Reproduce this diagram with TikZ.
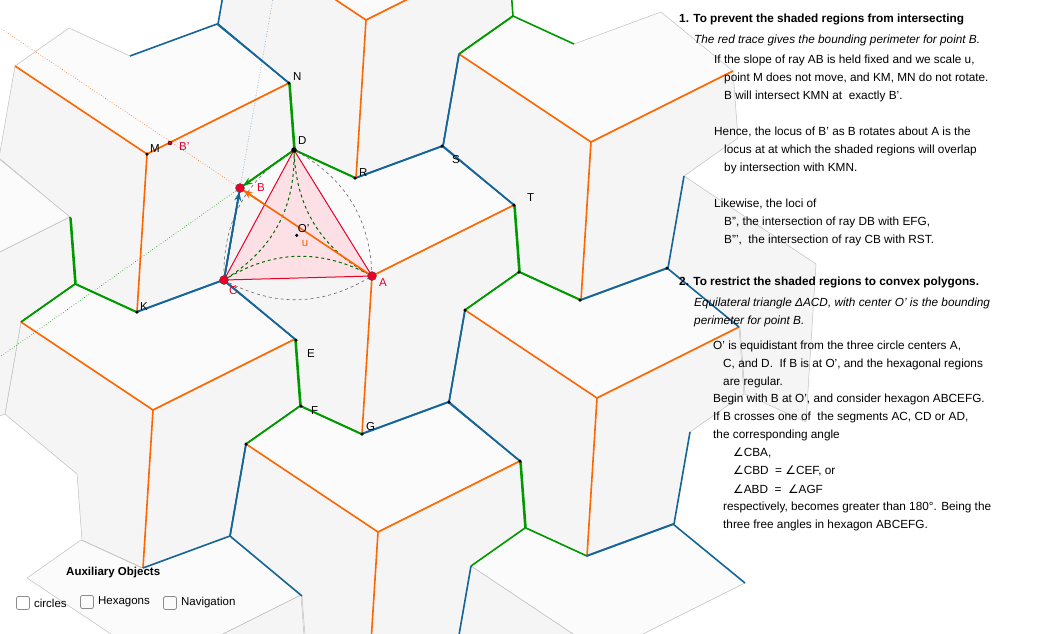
\documentclass[tikz,border=0pt]{standalone}
\usepackage{fontspec}
\setmainfont{Liberation Sans}
\newfontfamily\symfont{DejaVu Sans}
\usetikzlibrary{calc, arrows.meta}
\definecolor{ggOrange}{RGB}{255,102,0}
\definecolor{ggBlue}{RGB}{21,101,153}
\definecolor{ggGreen}{RGB}{0,153,0}
\definecolor{ggRed}{RGB}{235,0,40}
\definecolor{ggFaceA}{RGB}{251,251,251}
\definecolor{ggFaceB}{RGB}{245,245,245}
\tikzset{
  orangeline/.style={ggOrange, line width=1.6pt},
  blueline/.style={ggBlue, line width=1.6pt},
  greenline/.style={ggGreen, line width=1.6pt},
  face/.style={draw=black!25, line width=0.5pt},
  vtx/.style={circle, fill=black, inner sep=0pt, minimum size=3.5pt},
  bigpt/.style={circle, fill=ggRed, draw=black!70, inner sep=0pt, minimum size=9pt},
  vec/.style={line width=1.6pt, shorten >=4pt, -{Stealth[length=9pt, width=7pt]}},
  lbl/.style={font=\fontsize{11.5}{13}\selectfont, inner sep=1pt},
  txt/.style={anchor=west, font=\fontsize{11.8}{13}\selectfont, inner sep=0pt},
  chk/.style={draw=black!45, rounded corners=2pt, line width=0.8pt, minimum size=13pt, inner sep=0pt},
}
% tile = Y centre plus its twelve rim points
\newcommand\deftile[3]{%
  \coordinate (#1) at ({372+225*#2-219*#3},{276+122*#2+134*#3});
  \foreach \n/\dx/\dy in {L/-132/-88, t1/-78/-126, t2/-17/-98, t3/70/-130, R/142/-71,
                          r1/147/-4, r2/93/34, r3/77/126, D/-10/158,
                          l1/-71/130, l2/-76/64, l3/-148/4}
    \coordinate (#1\n) at ($(#1)+(\dx,\dy)$);
}
\newcommand\faceT[1]{\filldraw[face, fill=ggFaceA] (#1L)--(#1t1)--(#1t2)--(#1t3)--(#1R)--(#1)--cycle;}
\newcommand\faceR[1]{\filldraw[face, fill=ggFaceB] (#1R)--(#1r1)--(#1r2)--(#1r3)--(#1D)--(#1)--cycle;}
\newcommand\faceL[1]{\filldraw[face, fill=ggFaceB] (#1D)--(#1l1)--(#1l2)--(#1l3)--(#1L)--(#1)--cycle;}
\newcommand\drawY[1]{\draw[orangeline] (#1L)--(#1)--(#1R) (#1)--(#1D);}
\newcommand\drawTG[1]{\draw[greenline] (#1L)--(#1t1)--(#1t2);}
\newcommand\drawTB[1]{\draw[blueline] (#1t2)--(#1t3)--(#1R);}
\newcommand\drawRG[1]{\draw[greenline] (#1R)--(#1r1)--(#1r2);}
\newcommand\drawRB[1]{\draw[blueline] (#1r2)--(#1r3)--(#1D);}
\newcommand\drawLG[1]{\draw[greenline] (#1D)--(#1l1)--(#1l2);}
\newcommand\drawLB[1]{\draw[blueline] (#1l2)--(#1l3)--(#1L);}
\newcommand\rim[2]{\foreach \g in {#2}{\csname draw\g\endcsname{#1}}}

\begin{document}
\begin{tikzpicture}[x=1pt, y=-1pt, line join=round]
  \useasboundingbox (0,0) rectangle (1047,633);
  \clip (0,0) rectangle (1047,633);

  % tiles
  \foreach \nm/\i/\j in {ta/0/0, tb/-1/0, tc/-1/-1, td/0/-1, te/1/0, tf/0/1, tg/1/1,
                         th/1/-1, ti/-1/1, tj/1/2, tk/2/1}
    \deftile{\nm}{\i}{\j};

  % shaded faces
  \foreach \nm in {ta, tb, tc, td, te, tf, tg} {\faceT{\nm} \faceR{\nm} \faceL{\nm}}
  \faceL{th}
  \faceT{ti} \faceR{ti}
  \faceT{tj} \faceR{tj}
  \faceT{tk} \faceL{tk}

  % coloured rims
  \rim{ta}{Y,TG,TB,RG,RB,LG,LB}
  \rim{tb}{Y,TB,RG,RB,LG}
  \rim{tc}{Y,TG,TB,RG,RB,LG,LB}
  \rim{td}{Y,TG,RB,LG,LB}
  \rim{te}{Y,TG,TB,RB,LG,LB}
  \rim{tf}{Y,TG,TB,RG,RB}
  \rim{tg}{Y,TG,TB,RG,RB,LB}
  \rim{ti}{RG}
  \rim{tk}{TB}

  % named points
  \coordinate (A) at (ta);
  \coordinate (B) at (taL);
  \coordinate (C) at (tal3);
  \coordinate (D) at (tat1);
  \coordinate (O) at ($1/3*(A)+1/3*(C)+1/3*(D)$);
  \coordinate (Bp) at (170,143);

  % rays through B
  \draw[ggOrange, dotted, line width=0.6pt] (B) -- ($(A)!2.9!(B)$);
  \draw[ggBlue!70, dotted, line width=0.6pt] (B) -- ($(C)!3.2!(B)$);
  \draw[ggGreen, dotted, line width=0.6pt] (B) -- ($(D)!5.6!(B)$);

  % bounding triangle and arcs
  \filldraw[ggRed, fill=ggRed!12, line width=1pt] (A) -- (C) -- (D) -- cycle;
  \draw[black!60, dashed, line width=0.6pt]
    (C) to[bend right=30] (A)
    (A) to[bend right=30] (D)
    (D) to[bend right=30] (C);
  \draw[ggGreen!70!black, dashed, line width=1pt]
    (C) to[bend left=30] (A)
    (A) to[bend left=30] (D)
    (D) to[bend left=30] (C);

  % vectors
  \draw[vec, ggOrange] (A) -- (B);
  \draw[vec, ggBlue] (C) -- (B);
  \draw[vec, ggGreen] (D) -- (B);

  % vertices
  \foreach \p in {tbR, tb, tbD, tat2, tat3, taR, tar1, tar2, tar3, taD, tal1, tal2,
                  tet2, tet3, tgL, tgR, O}
    \node[vtx] at (\p) {};
  \node[vtx, minimum size=5.5pt] at (D) {};
  \node[circle, fill=ggRed, draw=black, inner sep=0pt, minimum size=4pt] (bp) at (Bp) {};
  \foreach \p in {A, B, C}
    \node[bigpt] at (\p) {};

  % labels
  \node[lbl, anchor=west] (lN) at ($(tbR)+(3,-6)$) {N};
  \node[lbl, anchor=west] (lD) at ($(D)+(3,-9)$) {D};
  \node[lbl, anchor=west, ggRed] (lB) at ($(B)+(16,0)$) {B};
  \node[lbl, anchor=west] (lM) at ($(tb)+(2,-5)$) {M};
  \node[lbl, anchor=west, ggRed] (lBp) at ($(bp)+(8,4)$) {B'};
  \node[lbl, anchor=west] (lK) at ($(tbD)+(2,-5)$) {K};
  \node[lbl, anchor=west] (lR) at ($(tat2)+(3,-5)$) {R};
  \node[lbl, anchor=west] (lS) at ($(tat3)+(9,14)$) {S};
  \node[lbl, anchor=west] (lT) at ($(taR)+(12,-7)$) {T};
  \node[lbl, anchor=west] (lO) at ($(O)+(0,-7)$) {O'};
  \node[lbl, anchor=west, ggOrange] (lu) at ($(O)+(4,8)$) {u};
  \node[lbl, anchor=west, ggRed] (lA) at ($(A)+(6,7)$) {A};
  \node[lbl, anchor=west, ggRed] (lC) at ($(C)+(4,11)$) {C};
  \node[lbl, anchor=west] (lE) at ($(tal2)+(10,14)$) {E};
  \node[lbl, anchor=west] (lF) at ($(tal1)+(9,5)$) {F};
  \node[lbl, anchor=west] (lG) at ($(taD)+(3,-7)$) {G};

  % notes
  \node[txt, font=\fontsize{11.8}{13}\selectfont\bfseries] at (679,19) {1. To prevent the shaded regions from intersecting};
  \node[txt, font=\fontsize{11.8}{13}\selectfont\itshape] at (694,40) {The red trace gives the bounding perimeter for point B.};
  \node[txt] at (714,60) {If the slope of ray AB is held fixed and we scale u,};
  \node[txt] at (724,78) {point M does not move, and KM, MN do not rotate.};
  \node[txt] at (724,96) {B will intersect KMN at \ exactly B'.};
  \node[txt] at (714,132) {Hence, the locus of B' as B rotates about A is the};
  \node[txt] at (724,150) {locus at at which the shaded regions will overlap};
  \node[txt] at (724,168) {by intersection with KMN.};
  \node[txt] at (714,204) {Likewise, the loci of};
  \node[txt] at (724,222) {B'', the intersection of ray DB with EFG,};
  \node[txt] at (724,240) {B''', \ the intersection of ray CB with RST.};
  \node[txt, font=\fontsize{11.8}{13}\selectfont\bfseries] at (679,282) {2. To restrict the shaded regions to convex polygons.};
  \node[txt, font=\fontsize{11.8}{13}\selectfont\itshape] at (694,303) {Equilateral triangle ΔACD, with center O' is the bounding};
  \node[txt, font=\fontsize{11.8}{13}\selectfont\itshape] at (694,321) {perimeter for point B.};
  \node[txt] at (713,346) {O' is equidistant from the three circle centers A,};
  \node[txt] at (723,364) {C, and D. \ If B is at O', and the hexagonal regions};
  \node[txt] at (723,382) {are regular.};
  \node[txt] at (713,399) {Begin with B at O', and consider hexagon ABCEFG.};
  \node[txt] at (713,417) {If B crosses one of \ the segments AC, CD or AD,};
  \node[txt] at (713,435) {the corresponding angle};
  \node[txt] at (733,453) {{\symfont ∠}CBA,};
  \node[txt] at (733,471) {{\symfont ∠}CBD \ = {\symfont ∠}CEF, or};
  \node[txt] at (733,489) {{\symfont ∠}ABD \ = \ {\symfont ∠}AGF};
  \node[txt] at (723,507) {respectively, becomes greater than 180°. Being the};
  \node[txt] at (723,525) {three free angles in hexagon ABCEFG.};

  % auxiliary objects panel
  \node[txt, font=\fontsize{11.5}{13}\selectfont\bfseries] (aux) at (66,573) {Auxiliary Objects};
  \node[chk] (c1) at (23,603) {};
  \node[txt, anchor=west, font=\fontsize{11.5}{13}\selectfont] at ($(c1.east)+(4,0)$) {circles};
  \node[chk] (c2) at (87,602) {};
  \node[txt, anchor=west, font=\fontsize{11.5}{13}\selectfont] at ($(c2.east)+(4,0)$) {Hexagons};
  \node[chk] (c3) at (170,603) {};
  \node[txt, anchor=west, font=\fontsize{11.5}{13}\selectfont] at ($(c3.east)+(4,0)$) {Navigation};
\end{tikzpicture}
\end{document}
